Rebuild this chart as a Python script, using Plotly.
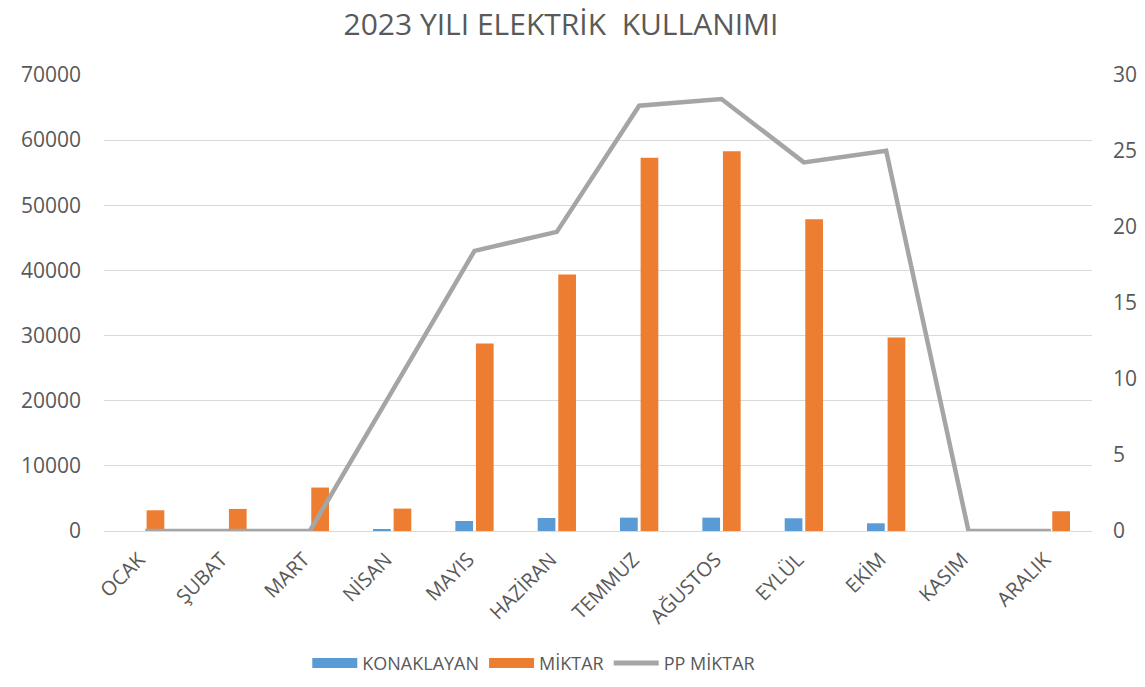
import plotly.graph_objects as go

months = ["OCAK", "ŞUBAT", "MART", "NİSAN", "MAYIS", "HAZİRAN",
          "TEMMUZ", "AĞUSTOS", "EYLÜL", "EKİM", "KASIM", "ARALIK"]
konaklayan = [0, 0, 0, 300, 1540, 2000, 2050, 2050, 1950, 1180, 0, 0]
miktar = [3180, 3390, 6670, 3440, 28770, 39380, 57280, 58300, 47850, 29690, 0, 3030]
pp_miktar = [0, 0, 0, 9.2, 18.43, 19.68, 27.98, 28.42, 24.25, 25.02, 0, 0]

FONT = "Open Sans, Liberation Sans, sans-serif"
TXT = "#595959"
BLUE = "#5b9bd5"
ORANGE = "#ed7d31"
GRAY = "#a5a5a5"

fig = go.Figure()
fig.add_trace(go.Bar(x=months, y=konaklayan, name="KONAKLAYAN", showlegend=False,
                     marker=dict(color=BLUE, line=dict(width=0))))
fig.add_trace(go.Bar(x=months, y=miktar, name="MİKTAR", showlegend=False,
                     marker=dict(color=ORANGE, line=dict(width=0))))
fig.add_trace(go.Scatter(x=months, y=pp_miktar, name="PP MİKTAR", yaxis="y2",
                         mode="lines", showlegend=False,
                         line=dict(color=GRAY, width=4.5)))
# legend entries (Excel-style wide swatches)
for nm, col, w in [("KONAKLAYAN", BLUE, 13), ("MİKTAR", ORANGE, 13), ("PP MİKTAR", GRAY, 5)]:
    fig.add_trace(go.Scatter(x=[None], y=[None], name=nm, mode="lines",
                             line=dict(color=col, width=w), showlegend=True))

W, H = 1129, 671
fig.update_layout(
    width=W, height=H,
    margin=dict(l=96, r=45, t=67, b=148, autoexpand=False),
    paper_bgcolor="white", plot_bgcolor="white",
    font=dict(family=FONT, color=TXT, size=18),
    title=dict(text="2023 YILI ELEKTRİK  KULLANIMI", x=553 / W, xanchor="center",
               xref="container", yref="container",
               y=1 - 6 / H, yanchor="top", font=dict(size=30, color=TXT, family=FONT)),
    barmode="group", bargap=0.5, bargroupgap=0.14,
    xaxis=dict(tickangle=-45, tickfont=dict(size=20, color=TXT), showgrid=False,
               showline=False, ticks="", automargin=False,
               ticklabelstandoff=12, ticklabelshift=-6),
    yaxis=dict(range=[0, 70000], dtick=10000, tickformat="d", showgrid=True,
               gridcolor="#d9d9d9", gridwidth=1, zeroline=True,
               zerolinecolor="#d9d9d9", zerolinewidth=1, automargin=False,
               tickfont=dict(size=21, color=TXT), ticks="", ticklabelstandoff=22),
    yaxis2=dict(range=[0, 30], dtick=5, overlaying="y", side="right", showgrid=False,
                zeroline=False, tickfont=dict(size=21, color=TXT), ticks="",
                automargin=False, ticklabelstandoff=20),
    legend=dict(orientation="h", x=0.435, xanchor="center", y=-0.29, yanchor="middle",
                font=dict(size=18, color=TXT), itemwidth=45, borderwidth=0,
                bgcolor="rgba(0,0,0,0)"),
)

fig.write_html("out.html")
